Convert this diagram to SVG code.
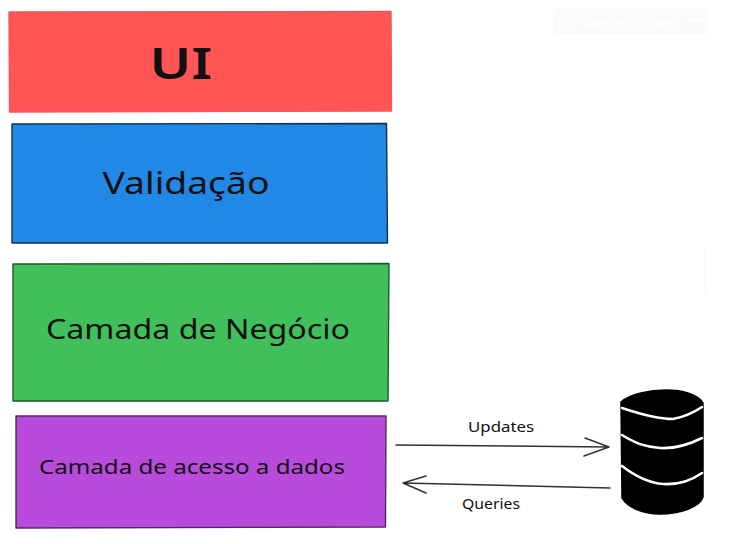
<svg xmlns="http://www.w3.org/2000/svg" width="738" height="544" viewBox="0 0 738 544">
<style>
text{font-family:"Noto Sans","Liberation Sans",sans-serif;fill:#111;text-anchor:middle}
.box{stroke-width:1.4;stroke-linejoin:round}
.wire{fill:none;stroke:#333;stroke-width:1.5;stroke-linecap:round;stroke-linejoin:round}
.band{fill:none;stroke:#fff;stroke-width:2.6;stroke-linecap:round;stroke-linejoin:round}
.tb{font-family:"Liberation Sans",sans-serif;font-size:11.5px;font-weight:700;fill:#fff}
</style>
<rect width="738" height="544" fill="#fff"/>
<g id="toolbar">
<rect x="553" y="9" width="155" height="25" rx="2" fill="#fafafa"/>
<path d="M560 18h10v8h-7l-2 2v-2h-1z" fill="none" stroke="#fff" stroke-width="1.2"/>
<text class="tb" x="604" y="26">Caption</text>
<text class="tb" x="657" y="26">Original</text>
<text class="tb" x="696" y="24">•••</text>
</g>
<rect x="704" y="248" width="3" height="46" fill="#fafafa"/>
<g id="ui">
<path class="box" d="M9 12 L391 11.500 L391.500 111 L9.500 112 Z" fill="#ff5555" stroke="#f0575c"/>
<text x="181" y="79" font-size="44" font-weight="600" textLength="63" lengthAdjust="spacingAndGlyphs">UI</text>
</g>
<g id="validacao">
<path class="box" d="M12 124 L386.500 123.500 L387.500 243 L12 243 Z" fill="#2188e6" stroke="#12304d"/>
<text x="186" y="194" font-size="31" textLength="167" lengthAdjust="spacingAndGlyphs">Validação</text>
</g>
<g id="negocio">
<path class="box" d="M13 264 L389 263.500 L388 401 L13 401 Z" fill="#41bf5a" stroke="#1e5a2c"/>
<text x="198" y="339" font-size="28" textLength="304" lengthAdjust="spacingAndGlyphs">Camada de Negócio</text>
</g>
<g id="dados">
<path class="box" d="M16 416 L386 416 L385.500 527 L16 528 Z" fill="#b94bdc" stroke="#4c2a5c"/>
<text x="192" y="474" font-size="20" textLength="306" lengthAdjust="spacingAndGlyphs">Camada de acesso a dados</text>
</g>
<g id="database">
<path d="M621 402 C630 394 650 390 666 390 C682 390 698 394 703 403 L703 497 C700 507 680 514 660 514 C642 514 627 507 622 498 Z" fill="#000" stroke="#000" stroke-width="1.500"/>
<path class="band" d="M622 408 C640 414 660 419 673 419 C684 417 696 411 702 407"/>
<path class="band" d="M622 435 C635 443 645 447 660 448 C675 449 690 444 702 438"/>
<path class="band" d="M622 466 C635 476 650 483 663 484 C678 485 692 480 702 473"/>
</g>
<g id="connectors">
<path class="wire" d="M396 445 L609 447 M585 438 L609 447 L584 456"/>
<path class="wire" d="M610 488 L403 483 M426 476 L403 483 L426 493"/>
<text x="501" y="432" font-size="15" textLength="66" lengthAdjust="spacingAndGlyphs">Updates</text>
<text x="491" y="509" font-size="15" textLength="58" lengthAdjust="spacingAndGlyphs">Queries</text>
</g>
</svg>
